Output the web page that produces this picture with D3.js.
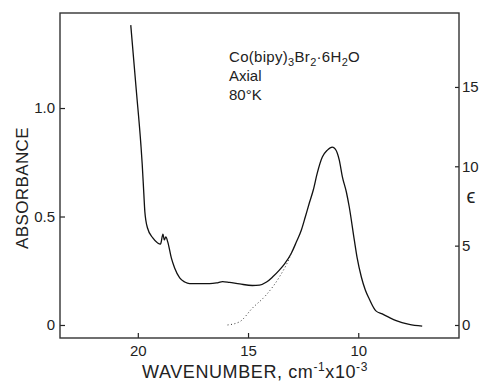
<!DOCTYPE html>
<html>
<head>
<meta charset="utf-8">
<script src="https://cdnjs.cloudflare.com/ajax/libs/d3/7.8.5/d3.min.js"></script>
<style>
  html, body { margin: 0; padding: 0; background: #fff; }
  svg { display: block; }
  text { font-family: "Liberation Sans", Arial, sans-serif; fill: #222; }
</style>
</head>
<body>
<svg id="chart" width="480" height="383"></svg>
<script>
// Wavenumber (cm^-1 x 10^-3) and absorbance of the measured (solid) spectrum
const solidWavenumber = [20.32, 20.07, 19.86, 19.80, 19.73, 19.68, 19.56, 19.32, 19.10, 18.97, 18.86, 18.80, 18.73, 18.64, 18.48, 18.33, 18.10, 17.87, 17.65, 17.19, 16.74, 16.43, 16.15, 15.84, 15.38, 14.80, 14.48, 14.16, 13.89, 13.58, 13.35, 13.03, 12.81, 12.58, 12.40, 12.22, 12.04, 11.86, 11.63, 11.40, 11.18, 11.04, 10.86, 10.72, 10.54, 10.41, 10.18, 10.05, 9.86, 9.68, 9.50, 9.20, 8.91, 8.60, 8.28, 7.69, 7.10];
const solidAbsorbance = [1.382, 1.083, 0.830, 0.740, 0.610, 0.521, 0.447, 0.401, 0.378, 0.373, 0.419, 0.392, 0.406, 0.382, 0.309, 0.263, 0.217, 0.198, 0.191, 0.191, 0.191, 0.194, 0.200, 0.196, 0.189, 0.182, 0.184, 0.198, 0.221, 0.253, 0.281, 0.332, 0.382, 0.438, 0.499, 0.562, 0.622, 0.700, 0.774, 0.806, 0.820, 0.811, 0.760, 0.683, 0.613, 0.545, 0.392, 0.309, 0.221, 0.161, 0.120, 0.065, 0.051, 0.035, 0.020, 0.003, -0.005];
// Extrapolated band wing (dotted)
const dottedWavenumber = [15.93, 15.38, 14.80, 14.18, 13.58, 13.12, 13.03];
const dottedAbsorbance = [0.000, 0.015, 0.078, 0.138, 0.221, 0.309, 0.332];

// Tick values and labels
const xTicks = [20, 15, 10];
const yTicks = [0, 0.5, 1.0];
const yTickLabels = ["0", "0.5", "1.0"];
const epsTicks = [0, 5, 10, 15];

const annotation = ["Axial", "80°K"];

const svg = d3.select("#chart");
const L = 60, R = 459, T = 13, B = 338;

const x = d3.scaleLinear().domain([23.53, 5.43]).range([L, R]);
const y = d3.scaleLinear().domain([-0.060, 1.438]).range([B, T]);
const eps = d3.scaleLinear().domain([-0.82, 19.66]).range([B, T]);

const fs = 14;

// Axes (ticks inward)
const gx = svg.append("g").attr("transform", `translate(0,${B})`)
  .call(d3.axisBottom(x).tickValues(xTicks).tickSize(-5).tickPadding(7).tickFormat(d3.format("d")));
const gy = svg.append("g").attr("transform", `translate(${L},0)`)
  .call(d3.axisLeft(y).tickValues(yTicks).tickSize(-5).tickPadding(5)
    .tickFormat((d, i) => yTickLabels[i]));
const ge = svg.append("g").attr("transform", `translate(${R},0)`)
  .call(d3.axisRight(eps).tickValues(epsTicks).tickSize(-4).tickPadding(3).tickFormat(d3.format("d")));
[gx, gy, ge].forEach(g => {
  g.select(".domain").remove();
  g.selectAll(".tick line").attr("stroke", "#222").attr("stroke-width", 1.2);
  g.selectAll(".tick text").attr("font-size", 15).attr("font-family", "Liberation Sans, Arial, sans-serif").attr("fill", "#222");
});

// Frame
svg.append("rect").attr("x", L).attr("y", T).attr("width", R - L).attr("height", B - T)
  .attr("fill", "none").attr("stroke", "#333").attr("stroke-width", 1.4);

// Data lines
const solid = solidWavenumber.map((v, i) => [v, solidAbsorbance[i]]);
const dotted = dottedWavenumber.map((v, i) => [v, dottedAbsorbance[i]]);
const line = d3.line().x(d => x(d[0])).y(d => y(d[1])).curve(d3.curveMonotoneX);

svg.append("path").attr("d", line(solid)).attr("fill", "none")
  .attr("stroke", "#111").attr("stroke-width", 1.3);
svg.append("path").attr("d", line(dotted)).attr("fill", "none")
  .attr("stroke", "#333").attr("stroke-width", 1).attr("stroke-dasharray", "1,2.5");

// Annotation
const t1 = svg.append("text").attr("x", 229).attr("y", 62).attr("font-size", 15).attr("letter-spacing", 0.3);
t1.append("tspan").text("Co(bipy)");
t1.append("tspan").attr("dy", 4).attr("font-size", 11).text("3");
t1.append("tspan").attr("dy", -4).text("Br");
t1.append("tspan").attr("dy", 4).attr("font-size", 11).text("2");
t1.append("tspan").attr("dy", -4).text("·6H");
t1.append("tspan").attr("dy", 4).attr("font-size", 11).text("2");
t1.append("tspan").attr("dy", -4).text("O");
svg.append("text").attr("x", 229).attr("y", 81).attr("font-size", 15).text(annotation[0]);
svg.append("text").attr("x", 229).attr("y", 100).attr("font-size", 15).text(annotation[1]);

// Axis titles
const xt = svg.append("text").attr("x", 255).attr("y", 378).attr("text-anchor", "middle")
  .attr("font-size", 18).attr("letter-spacing", 0.6);
xt.append("tspan").text("WAVENUMBER, cm");
xt.append("tspan").attr("dy", -7).attr("font-size", 12).text("-1");
xt.append("tspan").attr("dy", 7).text("x10");
xt.append("tspan").attr("dy", -7).attr("font-size", 12).text("-3");

svg.append("text").attr("transform", "translate(28,188) rotate(-90)")
  .attr("text-anchor", "middle").attr("font-size", 17).attr("letter-spacing", 0.4).text("ABSORBANCE");

svg.append("text").attr("x", 471).attr("y", 203).attr("text-anchor", "middle")
  .attr("font-size", 20).attr("font-family", "DejaVu Sans, sans-serif").text("ϵ");
</script>
</body>
</html>
